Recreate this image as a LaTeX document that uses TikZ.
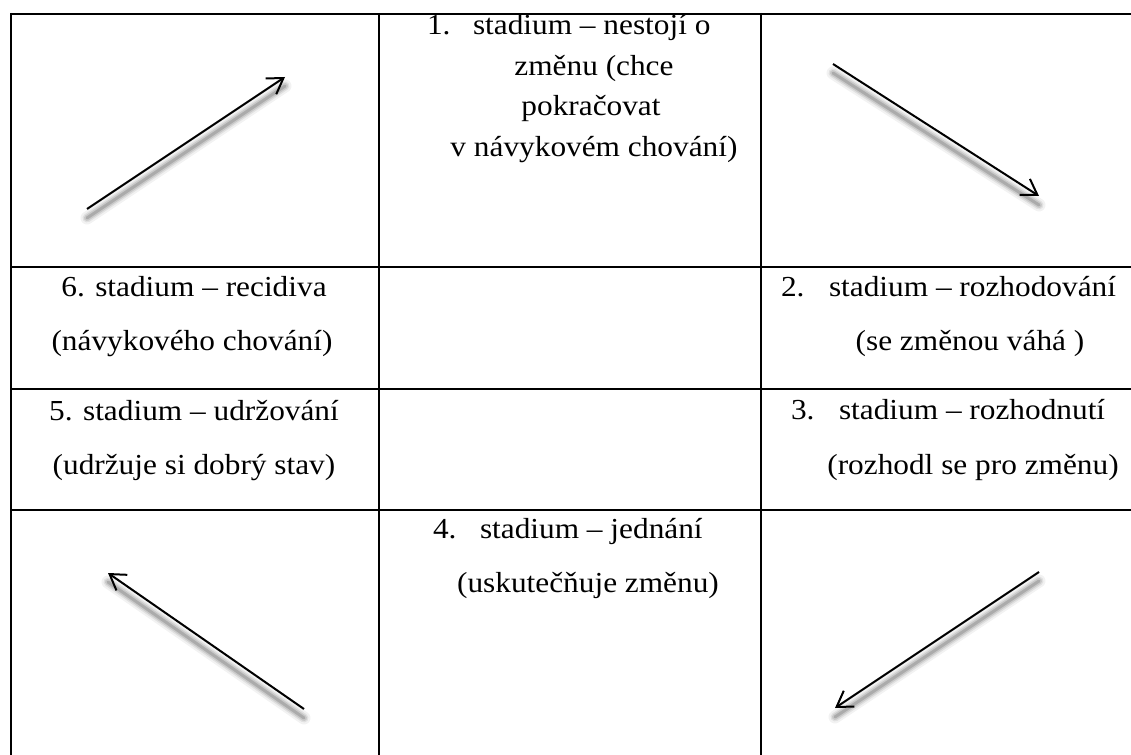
\documentclass[tikz,border=0pt]{standalone}
\usepackage{fontspec}
\setmainfont{Liberation Serif}[FakeStretch=1.08]
\usetikzlibrary{arrows.meta}
\tikzset{
  grid/.style={line width=2pt, draw=black},
  txt/.style={inner sep=0pt, outer sep=0pt, font=\fontsize{29}{35}\selectfont},
  lft/.style={txt, anchor=base west},
  ctr/.style={txt, anchor=base},
  arr/.style={line width=2pt, -{Straight Barb[length=15pt,width=19pt]}},
  shad/.style={draw=black, line cap=round, transform canvas={yshift=-9pt}}
}
\newcommand\shadowseg[2]{%
  \foreach \w/\o in {13/0.05,9/0.07,6/0.1,3/0.15}{%
    \draw[shad, line width=\w pt, opacity=\o] (#1) -- (#2);}}
\begin{document}
\begin{tikzpicture}[x=1pt,y=-1pt]
\useasboundingbox (0,0) rectangle (1131,754);
\clip (0,0) rectangle (1131,754);
\fill[white] (0,0) rectangle (1131,754);
% table grid
\draw[grid] (10,14) -- (1140,14);
\draw[grid] (11,267) -- (1140,267);
\draw[grid] (11,389) -- (1140,389);
\draw[grid] (11,510) -- (1140,510);
\draw[grid] (11,13) -- (11,760);
\draw[grid] (379,13) -- (379,760);
\draw[grid] (761,13) -- (761,760);
% row 1 centre text
\node[lft] (n1) at (427,35) {1.};
\node[lft] (t1a) at (473,35) {stadium – nestojí o};
\node[ctr] (t1b) at (594,76) {změnu (chce};
\node[ctr] (t1c) at (591,116) {pokračovat};
\node[ctr] (t1d) at (594,157) {v návykovém chování)};
% row 2
\node[ctr] (t6a) at (194,296) {6. stadium – recidiva};
\node[ctr] (t6b) at (192,350) {(návykového chování)};
\node[lft] (n2) at (781,296) {2.};
\node[lft] (t2a) at (829,296) {stadium – rozhodování};
\node[ctr] (t2b) at (970,350) {(se změnou váhá )};
% row 3
\node[ctr] (t5a) at (194,420) {5. stadium – udržování};
\node[ctr] (t5b) at (194,474) {(udržuje si dobrý stav)};
\node[lft] (n3) at (791,419) {3.};
\node[lft] (t3a) at (839,419) {stadium – rozhodnutí};
\node[ctr] (t3b) at (973,474) {(rozhodl se pro změnu)};
% row 4
\node[lft] (n4) at (433,538) {4.};
\node[lft] (t4a) at (480,538) {stadium – jednání};
\node[ctr] (t4b) at (588,592) {(uskutečňuje změnu)};
% arrows
\coordinate (a1s) at (87,209);  \coordinate (a1e) at (285,77);
\coordinate (a2s) at (833,64);  \coordinate (a2e) at (1039,196);
\coordinate (a3s) at (304,709); \coordinate (a3e) at (108,573);
\coordinate (a4s) at (1039,572);\coordinate (a4e) at (835,708);
\shadowseg{a1s}{a1e}
\shadowseg{a2s}{a2e}
\shadowseg{a3s}{a3e}
\shadowseg{a4s}{a4e}
\draw[arr] (a1s) -- (a1e);
\draw[arr] (a2s) -- (a2e);
\draw[arr] (a3s) -- (a3e);
\draw[arr] (a4s) -- (a4e);
\end{tikzpicture}
\end{document}
